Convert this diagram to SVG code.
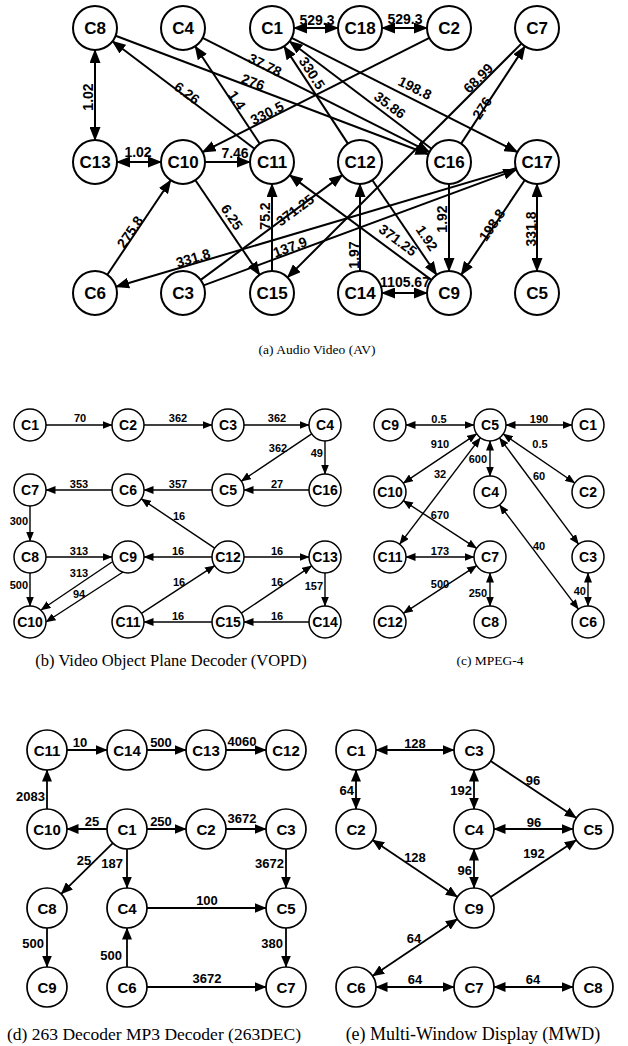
<svg xmlns="http://www.w3.org/2000/svg" width="628" height="1046" viewBox="0 0 628 1046">
<style>
  .bg{fill:#fff}
  .n circle{fill:#fff;stroke:#000}
  .n text{font-family:"Liberation Sans",Arial,sans-serif;font-weight:bold;text-anchor:middle;fill:#000}
  .na circle{stroke-width:2}
  .na text{font-size:17px}
  .nb circle{stroke-width:1.5}
  .nb text{font-size:14px}
  .nd circle{stroke-width:1.7}
  .nd text{font-size:15px}
  .e line{stroke:#000;fill:none}
  .ea line{stroke-width:2}
  .eb line{stroke-width:1.4}
  .ed line{stroke-width:1.8}
  .lbl{font-family:"Liberation Sans",Arial,sans-serif;font-weight:bold;fill:#000;text-anchor:middle}
  .la{font-size:14px}
  .lb{font-size:11px}
  .ld{font-size:13px}
  .end{text-anchor:end}
  .cap{font-family:"Liberation Serif","Times New Roman",serif;font-size:13.5px;text-anchor:middle;fill:#000}
  .capb{font-size:16.5px}
  .capd{font-size:17.5px}
  .cape{font-size:18px}
</style>
<defs>
  <marker id="ma" markerUnits="userSpaceOnUse" markerWidth="14" markerHeight="11" viewBox="0 0 14 11" refX="13" refY="5.5" orient="auto-start-reverse"><path d="M0,0 L14,5.5 L0,11 z"/></marker>
  <marker id="mb" markerUnits="userSpaceOnUse" markerWidth="10" markerHeight="8" viewBox="0 0 10 8" refX="9.5" refY="4" orient="auto-start-reverse"><path d="M0,0 L10,4 L0,8 z"/></marker>
  <marker id="md" markerUnits="userSpaceOnUse" markerWidth="12" markerHeight="10" viewBox="0 0 12 10" refX="11.5" refY="5" orient="auto-start-reverse"><path d="M0,0 L12,5 L0,10 z"/></marker>
</defs>
<rect class="bg" x="0" y="0" width="628" height="1046"/>

<!-- ===== (a) Audio Video ===== -->
<g id="edges-av" class="e ea">
  <line x1="294" y1="28" x2="338" y2="28" marker-start="url(#ma)" marker-end="url(#ma)"/>
  <line x1="382" y1="28" x2="427" y2="28" marker-start="url(#ma)" marker-end="url(#ma)"/>
  <line x1="95" y1="50" x2="95" y2="140" marker-start="url(#ma)" marker-end="url(#ma)"/>
  <line x1="117" y1="162" x2="161" y2="162" marker-start="url(#ma)" marker-end="url(#ma)"/>
  <line x1="205" y1="162" x2="250" y2="162" marker-end="url(#ma)"/>
  <line x1="254.5" y1="148.7" x2="112.5" y2="41.3" marker-end="url(#ma)"/>
  <line x1="259.8" y1="143.7" x2="195.2" y2="46.3" marker-end="url(#ma)"/>
  <line x1="202.6" y1="37.9" x2="429.4" y2="152.1" marker-end="url(#ma)"/>
  <line x1="115.6" y1="35.8" x2="428.4" y2="154.2" marker-end="url(#ma)"/>
  <line x1="429.4" y1="37.9" x2="202.6" y2="152.1" marker-end="url(#ma)"/>
  <line x1="347.9" y1="143.6" x2="284.1" y2="46.4" marker-end="url(#ma)"/>
  <line x1="431.5" y1="148.7" x2="289.5" y2="41.3" marker-end="url(#ma)"/>
  <line x1="291.6" y1="37.9" x2="517.4" y2="152.1" marker-end="url(#ma)"/>
  <line x1="461.1" y1="143.6" x2="524.9" y2="46.4" marker-end="url(#ma)"/>
  <line x1="521.4" y1="43.6" x2="287.6" y2="277.4" marker-end="url(#ma)"/>
  <line x1="195.4" y1="180.2" x2="259.6" y2="274.8" marker-end="url(#ma)"/>
  <line x1="272" y1="271" x2="272" y2="184" marker-end="url(#ma)"/>
  <line x1="200.7" y1="279.9" x2="342.3" y2="175.1" marker-end="url(#ma)"/>
  <line x1="431.3" y1="279.9" x2="289.7" y2="175.1" marker-end="url(#ma)"/>
  <line x1="515.9" y1="168.2" x2="116.1" y2="286.8" marker-end="url(#ma)"/>
  <line x1="203.6" y1="285.4" x2="516.4" y2="169.6" marker-end="url(#ma)"/>
  <line x1="107.3" y1="274.7" x2="170.7" y2="180.3" marker-end="url(#ma)"/>
  <line x1="360" y1="271" x2="360" y2="184" marker-end="url(#ma)"/>
  <line x1="372.4" y1="180.2" x2="436.6" y2="274.8" marker-end="url(#ma)"/>
  <line x1="449" y1="184" x2="449" y2="271" marker-end="url(#ma)"/>
  <line x1="524.7" y1="180.3" x2="461.3" y2="274.7" marker-end="url(#ma)"/>
  <line x1="537" y1="184" x2="537" y2="271" marker-start="url(#ma)" marker-end="url(#ma)"/>
  <line x1="382" y1="293" x2="427" y2="293" marker-start="url(#ma)" marker-end="url(#ma)"/>
</g>
<g id="labels-av" class="lbl la">
  <text x="317" y="25">529.3</text>
  <text x="405" y="24">529.3</text>
  <text transform="translate(88,97) rotate(-90)" y="5">1.02</text>
  <text x="138" y="157">1.02</text>
  <text x="235" y="158">7.46</text>
  <text transform="translate(187,93) rotate(37)" y="5">6.26</text>
  <text transform="translate(237,100) rotate(56.4)" y="5">1.4</text>
  <text transform="translate(265,65) rotate(26.7)" y="5">37.78</text>
  <text transform="translate(253,82) rotate(20.7)" y="5">276</text>
  <text transform="translate(267,113) rotate(-26.7)" y="5">330.5</text>
  <text transform="translate(312,73) rotate(56.7)" y="5">330.5</text>
  <text transform="translate(390,105) rotate(37)" y="5">35.86</text>
  <text transform="translate(415,88) rotate(26.8)" y="5">198.8</text>
  <text transform="translate(478,78) rotate(-45)" y="5">68.99</text>
  <text transform="translate(482,108) rotate(-56.7)" y="5">276</text>
  <text transform="translate(130,232) rotate(-56)" y="5">275.8</text>
  <text transform="translate(232,217) rotate(56)" y="5">6.25</text>
  <text transform="translate(265,216) rotate(-90)" y="5">75.2</text>
  <text transform="translate(295,210) rotate(-36.5)" y="5">371.25</text>
  <text transform="translate(193,258) rotate(-16.5)" y="5">331.8</text>
  <text transform="translate(290,247) rotate(-20.3)" y="5">137.9</text>
  <text transform="translate(354,255) rotate(-90)" y="5">1.97</text>
  <text transform="translate(398,240) rotate(36.5)" y="5">371.25</text>
  <text transform="translate(427,238) rotate(56)" y="5">1.92</text>
  <text transform="translate(442,219) rotate(-90)" y="5">1.92</text>
  <text transform="translate(492,225) rotate(-56)" y="5">198.8</text>
  <text transform="translate(531,229) rotate(-90)" y="5">331.8</text>
  <text x="405" y="287">1105.67</text>
</g>
<g id="av-C8" class="n na"><circle cx="95" cy="28" r="22"/><text x="95" y="34">C8</text></g>
<g id="av-C4" class="n na"><circle cx="183" cy="28" r="22"/><text x="183" y="34">C4</text></g>
<g id="av-C1" class="n na"><circle cx="272" cy="28" r="22"/><text x="272" y="34">C1</text></g>
<g id="av-C18" class="n na"><circle cx="360" cy="28" r="22"/><text x="360" y="34">C18</text></g>
<g id="av-C2" class="n na"><circle cx="449" cy="28" r="22"/><text x="449" y="34">C2</text></g>
<g id="av-C7" class="n na"><circle cx="537" cy="28" r="22"/><text x="537" y="34">C7</text></g>
<g id="av-C13" class="n na"><circle cx="95" cy="162" r="22"/><text x="95" y="168">C13</text></g>
<g id="av-C10" class="n na"><circle cx="183" cy="162" r="22"/><text x="183" y="168">C10</text></g>
<g id="av-C11" class="n na"><circle cx="272" cy="162" r="22"/><text x="272" y="168">C11</text></g>
<g id="av-C12" class="n na"><circle cx="360" cy="162" r="22"/><text x="360" y="168">C12</text></g>
<g id="av-C16" class="n na"><circle cx="449" cy="162" r="22"/><text x="449" y="168">C16</text></g>
<g id="av-C17" class="n na"><circle cx="537" cy="162" r="22"/><text x="537" y="168">C17</text></g>
<g id="av-C6" class="n na"><circle cx="95" cy="293" r="22"/><text x="95" y="299">C6</text></g>
<g id="av-C3" class="n na"><circle cx="183" cy="293" r="22"/><text x="183" y="299">C3</text></g>
<g id="av-C15" class="n na"><circle cx="272" cy="293" r="22"/><text x="272" y="299">C15</text></g>
<g id="av-C14" class="n na"><circle cx="360" cy="293" r="22"/><text x="360" y="299">C14</text></g>
<g id="av-C9" class="n na"><circle cx="449" cy="293" r="22"/><text x="449" y="299">C9</text></g>
<g id="av-C5" class="n na"><circle cx="537" cy="293" r="22"/><text x="537" y="299">C5</text></g>
<text class="cap" x="317" y="354">(a) Audio Video (AV)</text>

<!-- ===== (b) VOPD ===== -->
<g id="edges-vopd" class="e eb">
  <line x1="46" y1="425" x2="112" y2="425" marker-end="url(#mb)"/>
  <line x1="144" y1="425" x2="212" y2="425" marker-end="url(#mb)"/>
  <line x1="244" y1="425" x2="309" y2="425" marker-end="url(#mb)"/>
  <line x1="311.7" y1="433.9" x2="241.3" y2="481.1" marker-end="url(#mb)"/>
  <line x1="325" y1="441" x2="325" y2="474" marker-end="url(#mb)"/>
  <line x1="309" y1="490" x2="244" y2="490" marker-end="url(#mb)"/>
  <line x1="212" y1="490" x2="144" y2="490" marker-end="url(#mb)"/>
  <line x1="112" y1="490" x2="46" y2="490" marker-end="url(#mb)"/>
  <line x1="30" y1="506" x2="30" y2="541" marker-end="url(#mb)"/>
  <line x1="214.7" y1="548.1" x2="141.3" y2="498.9" marker-end="url(#mb)"/>
  <line x1="46" y1="557" x2="112" y2="557" marker-end="url(#mb)"/>
  <line x1="212" y1="557" x2="144" y2="557" marker-end="url(#mb)"/>
  <line x1="244" y1="557" x2="309" y2="557" marker-end="url(#mb)"/>
  <line x1="30" y1="573" x2="30" y2="606" marker-end="url(#mb)"/>
  <line x1="112" y1="562" x2="41" y2="610" marker-end="url(#mb)"/>
  <line x1="123" y1="572" x2="46" y2="622" marker-end="url(#mb)"/>
  <line x1="141.4" y1="613.3" x2="214.6" y2="565.7" marker-end="url(#mb)"/>
  <line x1="241.3" y1="613.1" x2="311.7" y2="565.9" marker-end="url(#mb)"/>
  <line x1="325" y1="573" x2="325" y2="606" marker-end="url(#mb)"/>
  <line x1="309" y1="622" x2="244" y2="622" marker-end="url(#mb)"/>
  <line x1="212" y1="622" x2="144" y2="622" marker-end="url(#mb)"/>
</g>
<g id="labels-vopd" class="lbl lb">
  <text x="80" y="422">70</text>
  <text x="178" y="422">362</text>
  <text x="277" y="422">362</text>
  <text x="278" y="452">362</text>
  <text class="end" x="323" y="457">49</text>
  <text x="277" y="488">27</text>
  <text x="178" y="488">357</text>
  <text x="79" y="488">353</text>
  <text class="end" x="28" y="525">300</text>
  <text x="179" y="520">16</text>
  <text x="79" y="555">313</text>
  <text x="178" y="555">16</text>
  <text x="277" y="555">16</text>
  <text class="end" x="28" y="589">500</text>
  <text x="79" y="577">313</text>
  <text x="79" y="598">94</text>
  <text x="179" y="586">16</text>
  <text x="277" y="586">16</text>
  <text class="end" x="323" y="590">157</text>
  <text x="178" y="620">16</text>
  <text x="277" y="620">16</text>
</g>
<g id="vopd-C1" class="n nb"><circle cx="30" cy="425" r="16"/><text x="30" y="430">C1</text></g>
<g id="vopd-C2" class="n nb"><circle cx="128" cy="425" r="16"/><text x="128" y="430">C2</text></g>
<g id="vopd-C3" class="n nb"><circle cx="228" cy="425" r="16"/><text x="228" y="430">C3</text></g>
<g id="vopd-C4" class="n nb"><circle cx="325" cy="425" r="16"/><text x="325" y="430">C4</text></g>
<g id="vopd-C7" class="n nb"><circle cx="30" cy="490" r="16"/><text x="30" y="495">C7</text></g>
<g id="vopd-C6" class="n nb"><circle cx="128" cy="490" r="16"/><text x="128" y="495">C6</text></g>
<g id="vopd-C5" class="n nb"><circle cx="228" cy="490" r="16"/><text x="228" y="495">C5</text></g>
<g id="vopd-C16" class="n nb"><circle cx="325" cy="490" r="16"/><text x="325" y="495">C16</text></g>
<g id="vopd-C8" class="n nb"><circle cx="30" cy="557" r="16"/><text x="30" y="562">C8</text></g>
<g id="vopd-C9" class="n nb"><circle cx="128" cy="557" r="16"/><text x="128" y="562">C9</text></g>
<g id="vopd-C12" class="n nb"><circle cx="228" cy="557" r="16"/><text x="228" y="562">C12</text></g>
<g id="vopd-C13" class="n nb"><circle cx="325" cy="557" r="16"/><text x="325" y="562">C13</text></g>
<g id="vopd-C10" class="n nb"><circle cx="30" cy="622" r="16"/><text x="30" y="627">C10</text></g>
<g id="vopd-C11" class="n nb"><circle cx="128" cy="622" r="16"/><text x="128" y="627">C11</text></g>
<g id="vopd-C15" class="n nb"><circle cx="228" cy="622" r="16"/><text x="228" y="627">C15</text></g>
<g id="vopd-C14" class="n nb"><circle cx="325" cy="622" r="16"/><text x="325" y="627">C14</text></g>
<text class="cap capb" x="171" y="666">(b) Video Object Plane Decoder (VOPD)</text>

<!-- ===== (c) MPEG-4 ===== -->
<g id="edges-mpeg4" class="e eb">
  <line x1="406" y1="425" x2="474" y2="425" marker-start="url(#mb)" marker-end="url(#mb)"/>
  <line x1="506" y1="425" x2="572" y2="425" marker-start="url(#mb)" marker-end="url(#mb)"/>
  <line x1="476.7" y1="433.9" x2="403.3" y2="483.1" marker-start="url(#mb)" marker-end="url(#mb)"/>
  <line x1="480.3" y1="437.8" x2="399.7" y2="544.2" marker-start="url(#mb)" marker-end="url(#mb)"/>
  <line x1="490" y1="441" x2="490" y2="476" marker-start="url(#mb)" marker-end="url(#mb)"/>
  <line x1="503.2" y1="434" x2="574.8" y2="483" marker-start="url(#mb)" marker-end="url(#mb)"/>
  <line x1="499.5" y1="437.8" x2="578.5" y2="544.2" marker-start="url(#mb)" marker-end="url(#mb)"/>
  <line x1="403.4" y1="500.7" x2="476.6" y2="548.3" marker-start="url(#mb)" marker-end="url(#mb)"/>
  <line x1="406" y1="557" x2="474" y2="557" marker-start="url(#mb)" marker-end="url(#mb)"/>
  <line x1="499.6" y1="504.8" x2="578.4" y2="609.2" marker-start="url(#mb)" marker-end="url(#mb)"/>
  <line x1="476.6" y1="565.7" x2="403.4" y2="613.3" marker-start="url(#mb)" marker-end="url(#mb)"/>
  <line x1="490" y1="573" x2="490" y2="606" marker-start="url(#mb)" marker-end="url(#mb)"/>
  <line x1="588" y1="573" x2="588" y2="606" marker-start="url(#mb)" marker-end="url(#mb)"/>
</g>
<g id="labels-mpeg4" class="lbl lb">
  <text x="439" y="423">0.5</text>
  <text x="539" y="423">190</text>
  <text x="440" y="448">910</text>
  <text x="440" y="478">32</text>
  <text class="end" x="487" y="463">600</text>
  <text x="540" y="448">0.5</text>
  <text x="539" y="480">60</text>
  <text x="440" y="519">670</text>
  <text x="440" y="555">173</text>
  <text x="539" y="550">40</text>
  <text x="440" y="588">500</text>
  <text class="end" x="487" y="597">250</text>
  <text class="end" x="586" y="595">40</text>
</g>
<g id="mpeg4-C9" class="n nb"><circle cx="390" cy="425" r="16"/><text x="390" y="430">C9</text></g>
<g id="mpeg4-C5" class="n nb"><circle cx="490" cy="425" r="16"/><text x="490" y="430">C5</text></g>
<g id="mpeg4-C1" class="n nb"><circle cx="588" cy="425" r="16"/><text x="588" y="430">C1</text></g>
<g id="mpeg4-C10" class="n nb"><circle cx="390" cy="492" r="16"/><text x="390" y="497">C10</text></g>
<g id="mpeg4-C4" class="n nb"><circle cx="490" cy="492" r="16"/><text x="490" y="497">C4</text></g>
<g id="mpeg4-C2" class="n nb"><circle cx="588" cy="492" r="16"/><text x="588" y="497">C2</text></g>
<g id="mpeg4-C11" class="n nb"><circle cx="390" cy="557" r="16"/><text x="390" y="562">C11</text></g>
<g id="mpeg4-C7" class="n nb"><circle cx="490" cy="557" r="16"/><text x="490" y="562">C7</text></g>
<g id="mpeg4-C3" class="n nb"><circle cx="588" cy="557" r="16"/><text x="588" y="562">C3</text></g>
<g id="mpeg4-C12" class="n nb"><circle cx="390" cy="622" r="16"/><text x="390" y="627">C12</text></g>
<g id="mpeg4-C8" class="n nb"><circle cx="490" cy="622" r="16"/><text x="490" y="627">C8</text></g>
<g id="mpeg4-C6" class="n nb"><circle cx="588" cy="622" r="16"/><text x="588" y="627">C6</text></g>
<text class="cap" x="490" y="665">(c) MPEG-4</text>

<!-- ===== (d) 263DEC ===== -->
<g id="edges-263dec" class="e ed">
  <line x1="67" y1="750" x2="107" y2="750" marker-end="url(#md)"/>
  <line x1="147" y1="750" x2="186" y2="750" marker-end="url(#md)"/>
  <line x1="226" y1="750" x2="266" y2="750" marker-end="url(#md)"/>
  <line x1="47" y1="809" x2="47" y2="770" marker-end="url(#md)"/>
  <line x1="107" y1="829" x2="67" y2="829" marker-end="url(#md)"/>
  <line x1="147" y1="829" x2="186" y2="829" marker-end="url(#md)"/>
  <line x1="226" y1="829" x2="266" y2="829" marker-end="url(#md)"/>
  <line x1="112.8" y1="843.1" x2="61.2" y2="893.9" marker-end="url(#md)"/>
  <line x1="127" y1="849" x2="127" y2="888" marker-end="url(#md)"/>
  <line x1="286" y1="849" x2="286" y2="888" marker-end="url(#md)"/>
  <line x1="147" y1="908" x2="266" y2="908" marker-end="url(#md)"/>
  <line x1="47" y1="928" x2="47" y2="967" marker-end="url(#md)"/>
  <line x1="127" y1="967" x2="127" y2="928" marker-end="url(#md)"/>
  <line x1="286" y1="928" x2="286" y2="967" marker-end="url(#md)"/>
  <line x1="147" y1="987" x2="266" y2="987" marker-end="url(#md)"/>
</g>
<g id="labels-263dec" class="lbl ld">
  <text x="80" y="747">10</text>
  <text x="161" y="747">500</text>
  <text x="242" y="746">4060</text>
  <text class="end" x="45" y="801">2083</text>
  <text x="92" y="826">25</text>
  <text x="161" y="826">250</text>
  <text x="242" y="823">3672</text>
  <text x="84" y="865">25</text>
  <text class="end" x="123" y="868">187</text>
  <text class="end" x="284" y="868">3672</text>
  <text x="207" y="905">100</text>
  <text class="end" x="44" y="948">500</text>
  <text class="end" x="122" y="960">500</text>
  <text class="end" x="283" y="948">380</text>
  <text x="207" y="983">3672</text>
</g>
<g id="dec-C11" class="n nd"><circle cx="47" cy="750" r="20"/><text x="47" y="755.5">C11</text></g>
<g id="dec-C14" class="n nd"><circle cx="127" cy="750" r="20"/><text x="127" y="755.5">C14</text></g>
<g id="dec-C13" class="n nd"><circle cx="206" cy="750" r="20"/><text x="206" y="755.5">C13</text></g>
<g id="dec-C12" class="n nd"><circle cx="286" cy="750" r="20"/><text x="286" y="755.5">C12</text></g>
<g id="dec-C10" class="n nd"><circle cx="47" cy="829" r="20"/><text x="47" y="834.5">C10</text></g>
<g id="dec-C1" class="n nd"><circle cx="127" cy="829" r="20"/><text x="127" y="834.5">C1</text></g>
<g id="dec-C2" class="n nd"><circle cx="206" cy="829" r="20"/><text x="206" y="834.5">C2</text></g>
<g id="dec-C3" class="n nd"><circle cx="286" cy="829" r="20"/><text x="286" y="834.5">C3</text></g>
<g id="dec-C8" class="n nd"><circle cx="47" cy="908" r="20"/><text x="47" y="913.5">C8</text></g>
<g id="dec-C4" class="n nd"><circle cx="127" cy="908" r="20"/><text x="127" y="913.5">C4</text></g>
<g id="dec-C5" class="n nd"><circle cx="286" cy="908" r="20"/><text x="286" y="913.5">C5</text></g>
<g id="dec-C9" class="n nd"><circle cx="47" cy="987" r="20"/><text x="47" y="992.5">C9</text></g>
<g id="dec-C6" class="n nd"><circle cx="127" cy="987" r="20"/><text x="127" y="992.5">C6</text></g>
<g id="dec-C7" class="n nd"><circle cx="286" cy="987" r="20"/><text x="286" y="992.5">C7</text></g>
<text class="cap capd" x="154" y="1040">(d) 263 Decoder MP3 Decoder (263DEC)</text>

<!-- ===== (e) MWD ===== -->
<g id="edges-mwd" class="e ed">
  <line x1="376" y1="750" x2="454" y2="750" marker-start="url(#md)" marker-end="url(#md)"/>
  <line x1="356" y1="770" x2="356" y2="809" marker-start="url(#md)" marker-end="url(#md)"/>
  <line x1="474" y1="770" x2="474" y2="809" marker-start="url(#md)" marker-end="url(#md)"/>
  <line x1="490.7" y1="761.1" x2="576.3" y2="817.9" marker-end="url(#md)"/>
  <line x1="494" y1="829" x2="573" y2="829" marker-start="url(#md)" marker-end="url(#md)"/>
  <line x1="372.6" y1="840.1" x2="457.4" y2="896.9" marker-start="url(#md)" marker-end="url(#md)"/>
  <line x1="474" y1="849" x2="474" y2="888" marker-start="url(#md)" marker-end="url(#md)"/>
  <line x1="490.7" y1="896.9" x2="576.3" y2="840.1" marker-end="url(#md)"/>
  <line x1="372.6" y1="975.9" x2="457.4" y2="919.1" marker-start="url(#md)" marker-end="url(#md)"/>
  <line x1="376" y1="987" x2="454" y2="987" marker-start="url(#md)" marker-end="url(#md)"/>
  <line x1="494" y1="987" x2="573" y2="987" marker-start="url(#md)" marker-end="url(#md)"/>
</g>
<g id="labels-mwd" class="lbl ld">
  <text x="415" y="748">128</text>
  <text class="end" x="354" y="795">64</text>
  <text class="end" x="472" y="795">192</text>
  <text x="533" y="785">96</text>
  <text x="534" y="827">96</text>
  <text x="415" y="862">128</text>
  <text x="534" y="858">192</text>
  <text class="end" x="472" y="875">96</text>
  <text x="414" y="943">64</text>
  <text x="415" y="984">64</text>
  <text x="533" y="984">64</text>
</g>
<g id="mwd-C1" class="n nd"><circle cx="356" cy="750" r="20"/><text x="356" y="755.5">C1</text></g>
<g id="mwd-C3" class="n nd"><circle cx="474" cy="750" r="20"/><text x="474" y="755.5">C3</text></g>
<g id="mwd-C2" class="n nd"><circle cx="356" cy="829" r="20"/><text x="356" y="834.5">C2</text></g>
<g id="mwd-C4" class="n nd"><circle cx="474" cy="829" r="20"/><text x="474" y="834.5">C4</text></g>
<g id="mwd-C5" class="n nd"><circle cx="593" cy="829" r="20"/><text x="593" y="834.5">C5</text></g>
<g id="mwd-C9" class="n nd"><circle cx="474" cy="908" r="20"/><text x="474" y="913.5">C9</text></g>
<g id="mwd-C6" class="n nd"><circle cx="356" cy="987" r="20"/><text x="356" y="992.5">C6</text></g>
<g id="mwd-C7" class="n nd"><circle cx="474" cy="987" r="20"/><text x="474" y="992.5">C7</text></g>
<g id="mwd-C8" class="n nd"><circle cx="593" cy="987" r="20"/><text x="593" y="992.5">C8</text></g>
<text class="cap cape" x="473" y="1040">(e) Multi-Window Display (MWD)</text>
</svg>
